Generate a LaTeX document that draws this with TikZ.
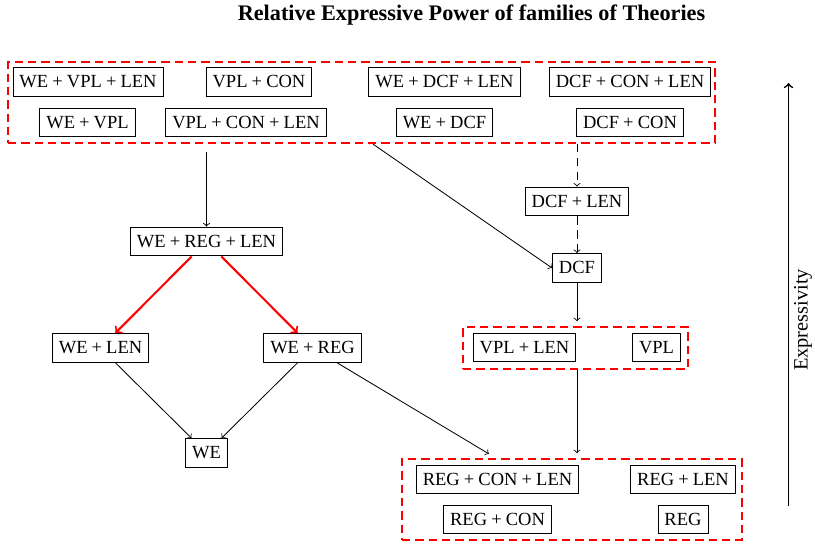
\documentclass[tikz,border=0pt]{standalone}
\usepackage{fontspec}
\setmainfont{Liberation Serif}
\usetikzlibrary{calc}

% a plus sign with binary-operator spacing
\newcommand{\pl}{\hspace{0.222em}+\hspace{0.222em}}

\tikzset{
  theory/.style={draw, line width=0.5pt, inner xsep=3.5pt, inner ysep=0pt,
    minimum height=15.6pt, text height=7pt, text depth=0.6pt},
  family/.style={draw=red, line width=1.2pt, dash pattern=on 4.5pt off 2.7pt,
    inner sep=0pt},
  link/.style={->, line width=0.45pt},
  weak/.style={->, line width=0.45pt, dash pattern=on 4.5pt off 3pt},
  strict/.style={->, draw=red, line width=1.1pt},
}

\begin{document}
\begin{tikzpicture}[x=0.54pt, y=-0.54pt]
  \useasboundingbox (0,0) rectangle (815,545);

  \node[font=\fontsize{12}{14}\bfseries] (title) at (471.5,15) {Relative Expressive Power of families of Theories};

  % most expressive family
  \node[family, minimum width=707*0.54pt, minimum height=81*0.54pt] (top) at (361.5,102.5) {};
  \node[theory] (wvl)  at (88,82)     {WE\pl VPL\pl LEN};
  \node[theory] (vc)   at (259,82)    {VPL\pl CON};
  \node[theory] (wdl)  at (444.5,82)  {WE\pl DCF\pl LEN};
  \node[theory] (dcl)  at (630,82)    {DCF\pl CON\pl LEN};
  \node[theory] (wv)   at (87.5,122.5){WE\pl VPL};
  \node[theory] (vcl)  at (246,122.5) {VPL\pl CON\pl LEN};
  \node[theory] (wd)   at (444.5,122.5){WE\pl DCF};
  \node[theory] (dc)   at (630,122.5) {DCF\pl CON};

  % word equations with regular constraints
  \node[theory] (wrl)   at (206.5,241.5) {WE\pl REG\pl LEN};
  \node[theory] (welen) at (100.5,348)   {WE\pl LEN};
  \node[theory] (wereg) at (312.5,348)   {WE\pl REG};
  \node[theory] (we)    at (206.5,453)   {WE};

  % deterministic context-free branch
  \node[theory] (dcflen) at (577,201.5) {DCF\pl LEN};
  \node[theory] (dcf)    at (577,268)   {DCF};

  \node[family, minimum width=225*0.54pt, minimum height=42*0.54pt] (vg) at (575.5,348) {};
  \node[theory] (vpllen) at (524.5,347.5) {VPL\pl LEN};
  \node[theory] (vpl)    at (656.5,347.5) {VPL};

  % regular family
  \node[family, minimum width=340*0.54pt, minimum height=81*0.54pt] (bot) at (572,499.5) {};
  \node[theory] (rcl) at (497.5,479.5) {REG\pl CON\pl LEN};
  \node[theory] (rl)  at (683,479.5)   {REG\pl LEN};
  \node[theory] (rc)  at (497.5,519.5) {REG\pl CON};
  \node[theory] (reg) at (683,519.5)   {REG};

  % connectors
  \draw[link, shorten <=4pt] (top.south -| wrl) -- (wrl);
  \draw[link] ($(top.south)+(11.5,0)$) -- (dcf.west);
  \draw[weak] (top.south -| dcflen) -- (dcflen);
  \draw[weak] (dcflen) -- (dcf);
  \draw[link, shorten >=2.5pt] (dcf) -- (vg.north -| dcf);
  \draw[link, shorten >=2.5pt] (vg.south -| dcf) -- (bot.north -| dcf);

  \draw[strict] (wrl) -- (welen);
  \draw[strict] (wrl) -- (wereg);
  \draw[link] (welen) -- (we);
  \draw[link] (wereg) -- (we);
  \coordinate (regin) at ($(bot.north west)+(88,-4)$);
  \draw[link] (wereg) -- (regin);

  % expressivity axis
  \coordinate (axlo) at (788.5,506);
  \coordinate (axhi) at (788.5,83);
  \draw[->, line width=0.9pt] (axlo) -- (axhi);
  \node[rotate=90, font=\fontsize{11}{13}\selectfont] (axlabel) at (803,320) {Expressivity};
\end{tikzpicture}
\end{document}
